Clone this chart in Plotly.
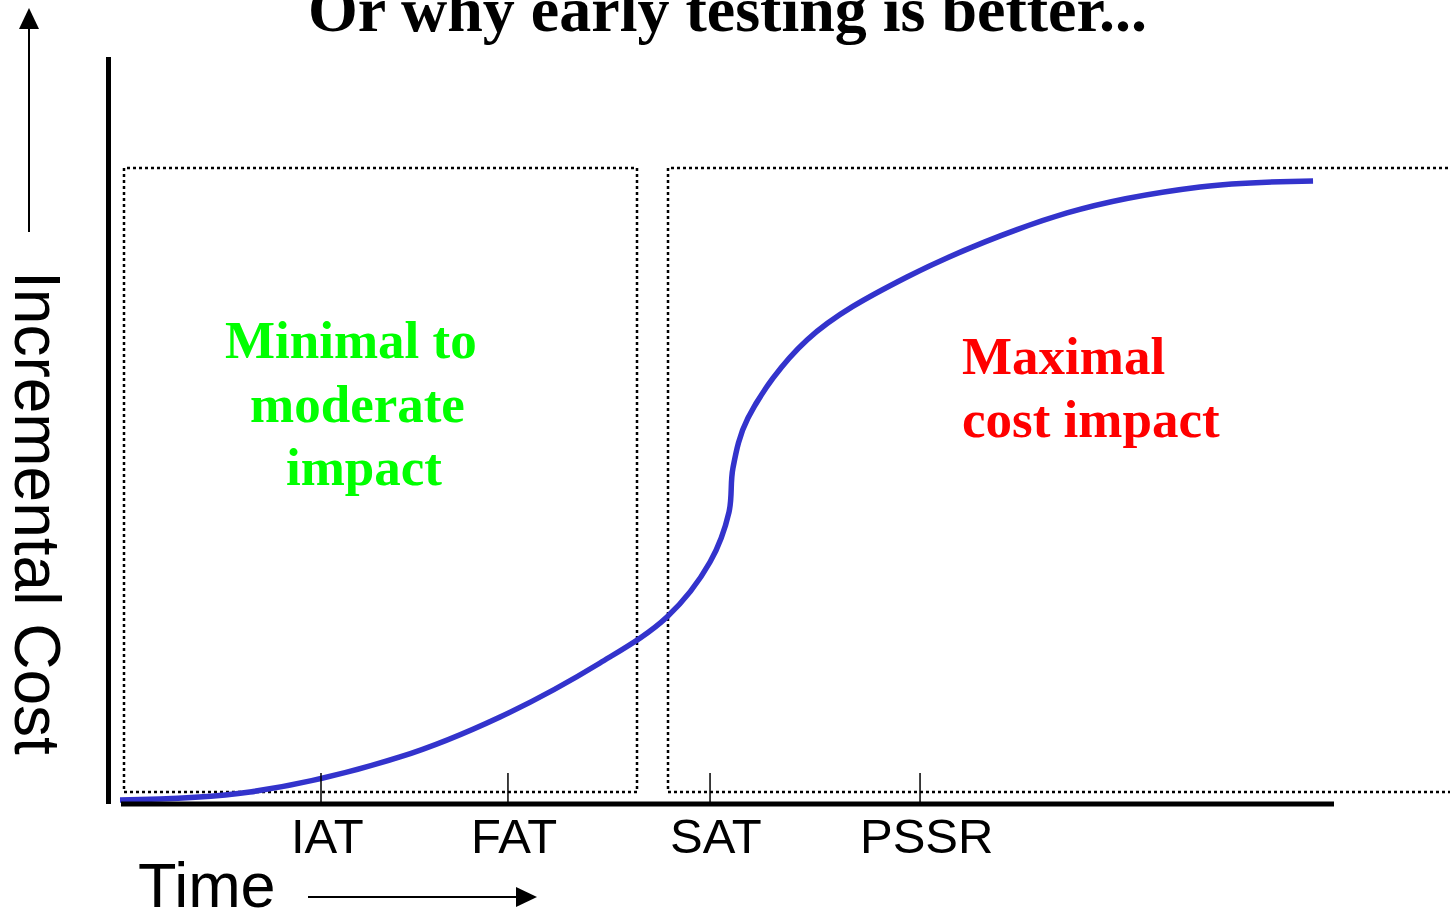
import plotly.graph_objects as go

W, H = 1450, 917

# ---- data ----
time_vals = [0, 10.83, 23.33, 31.67, 40.0, 45.58, 49.17, 50.75, 51.08, 52.33, 57.25, 65.58, 78.92, 90.0, 99.42]
cost_vals = [0, 1.29, 6.94, 13.39, 22.10, 29.52, 38.39, 46.45, 53.55, 61.61, 74.19, 84.35, 94.68, 98.87, 99.84]
tick_pos = [16.75, 32.33, 49.17, 66.67]
tick_labels = ["IAT", "FAT", "SAT", "PSSR"]

# axis scale: x px = 120 + 12*t ; y px = 800 - 6.2*c
XR = [-120 / 12, (W - 120) / 12]
YR = [(800 - H) / 6.2, 800 / 6.2]


def px(x):
    return x / W


def py(y):
    return 1 - y / H


def dx(x):
    return (x - 120) / 12


def dy(y):
    return (800 - y) / 6.2


fig = go.Figure()
fig.add_trace(go.Scatter(x=time_vals, y=cost_vals, mode="lines",
                         line=dict(color="#3333cc", width=5.5, shape="spline", smoothing=1.0),
                         hoverinfo="skip", showlegend=False))

shapes = []
dot = dict(color="black", width=2.5, dash="dot")
# dotted boxes
shapes.append(dict(type="rect", xref="x", yref="y", x0=dx(124), x1=dx(637), y0=dy(792), y1=dy(168),
                   line=dot, layer="below"))
shapes.append(dict(type="rect", xref="x", yref="y", x0=dx(668), x1=dx(1460), y0=dy(792), y1=dy(168),
                   line=dot, layer="below"))
# axes lines
shapes.append(dict(type="line", xref="paper", yref="paper", x0=px(108.5), x1=px(108.5), y0=py(57), y1=py(804),
                   line=dict(color="black", width=5)))
shapes.append(dict(type="line", xref="paper", yref="paper", x0=px(121), x1=px(1334), y0=py(804), y1=py(804),
                   line=dict(color="black", width=5)))
# tick marks
for t in tick_pos:
    shapes.append(dict(type="line", xref="x", yref="y", x0=t, x1=t, y0=dy(773), y1=dy(803),
                       line=dict(color="black", width=1.5)))
# y arrow
shapes.append(dict(type="line", xref="paper", yref="paper", x0=px(29), x1=px(29), y0=py(232), y1=py(26),
                   line=dict(color="black", width=2)))
shapes.append(dict(type="path", xref="paper", yref="paper",
                   path=f"M {px(29)} {py(8)} L {px(19)} {py(29)} L {px(39)} {py(29)} Z",
                   fillcolor="black", line=dict(width=0)))
# time arrow
shapes.append(dict(type="line", xref="paper", yref="paper", x0=px(308), x1=px(520), y0=py(897), y1=py(897),
                   line=dict(color="black", width=2)))
shapes.append(dict(type="path", xref="paper", yref="paper",
                   path=f"M {px(537)} {py(897)} L {px(516)} {py(887)} L {px(516)} {py(907)} Z",
                   fillcolor="black", line=dict(width=0)))

ann = []
sans = "Liberation Sans, Arial, sans-serif"
serif = "Liberation Serif, Times New Roman, serif"
for t, lab in zip(tick_pos, tick_labels):
    ann.append(dict(x=t, y=dy(836), xref="x", yref="y", text=lab, showarrow=False, xshift=6,
                    xanchor="center", yanchor="middle", font=dict(family=sans, size=49, color="black")))
ann.append(dict(x=px(207), y=py(885), xref="paper", yref="paper", text="Time", showarrow=False,
                xanchor="center", yanchor="middle", font=dict(family=sans, size=63, color="black")))
ann.append(dict(x=px(37), y=py(513), xref="paper", yref="paper", text="Incremental Cost", showarrow=False,
                textangle=90, xanchor="center", yanchor="middle",
                font=dict(family=sans, size=64, color="black")))
ann.append(dict(x=px(728), y=py(10), xref="paper", yref="paper", text="<b>Or why early testing is better...</b>",
                showarrow=False, xanchor="center", yanchor="middle",
                font=dict(family=serif, size=64, color="black")))
green = "#00ff00"
for txt, cx, cy in [("Minimal to", 351, 340), ("moderate", 357, 404), ("impact", 364, 467)]:
    ann.append(dict(x=px(cx), y=py(cy), xref="paper", yref="paper", text=f"<b>{txt}</b>", showarrow=False,
                    xanchor="center", yanchor="middle", font=dict(family=serif, size=53, color=green)))
for txt, cy in [("Maximal", 356), ("cost impact", 419)]:
    ann.append(dict(x=px(960), y=py(cy), xref="paper", yref="paper", text=f"<b>{txt}</b>", showarrow=False,
                    xanchor="left", yanchor="middle", font=dict(family=serif, size=53, color="#ff0000")))

fig.update_layout(
    width=W, height=H, margin=dict(l=0, r=0, t=0, b=0),
    paper_bgcolor="white", plot_bgcolor="white",
    xaxis=dict(range=XR, visible=False, fixedrange=True),
    yaxis=dict(range=YR, visible=False, fixedrange=True),
    shapes=shapes, annotations=ann, showlegend=False,
)
fig.write_html("out.html", config={"displayModeBar": False},
               post_script="document.body.style.margin='0px';document.body.style.overflow='hidden';")
